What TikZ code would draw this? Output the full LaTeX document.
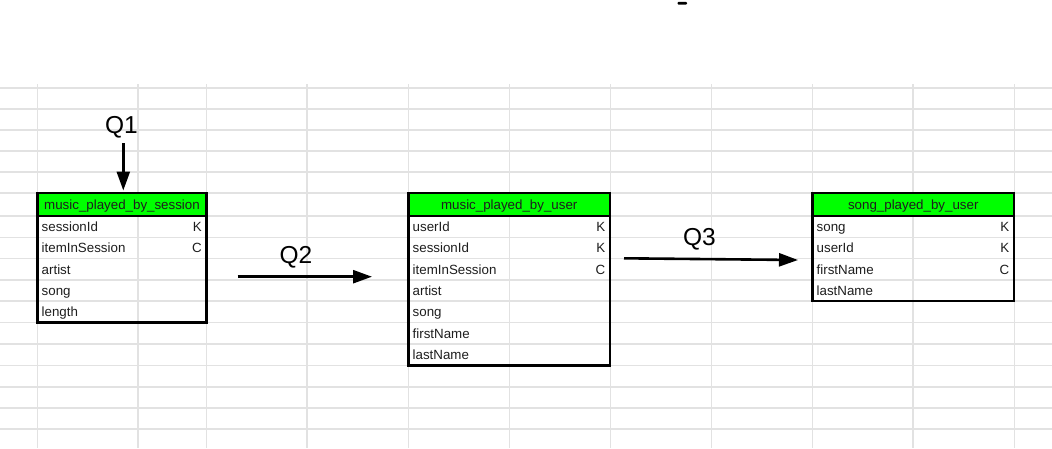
\documentclass[tikz,border=0pt]{standalone}
\usepackage{fontspec}
\setmainfont{Liberation Sans}
\usetikzlibrary{arrows.meta}
\definecolor{gridc}{RGB}{226,226,226}
\definecolor{hdrgreen}{RGB}{0,255,0}
\definecolor{txt}{RGB}{30,30,30}
\newcommand\cellfont{\fontsize{13.33}{16}\selectfont}
\newcommand\qfont{\fontsize{24.5}{28}\selectfont}
\tikzset{
  gridline/.style={draw=gridc, line width=1.1pt},
  tbl/.style={draw=black, line width=2.2pt, inner sep=0pt, outer sep=0pt, anchor=north west},
  hdr/.style={tbl, fill=hdrgreen, minimum height=23pt, font=\cellfont, text=txt,
              text height=9.6pt, text depth=0pt},
  fld/.style={anchor=base west, inner sep=0pt, font=\cellfont, text=txt},
  keyc/.style={anchor=base east, inner sep=0pt, font=\cellfont, text=txt},
  qlab/.style={anchor=base, inner sep=0pt, font=\qfont, text=black},
  arr/.style={-{Triangle[length=19pt,width=13pt]}, line width=2.6pt, draw=black},
}
\begin{document}
\begin{tikzpicture}[x=1pt,y=-1pt]
\useasboundingbox (0,0) rectangle (1052,448);
\fill[white] (0,0) rectangle (1052,448);
% spreadsheet grid
\foreach \yy in {88,109,130,151,172,193,216,237.5,258.5,280,301,322.5,344,365.5,387,408,429}
  \draw[gridline] (0,\yy) -- (1052,\yy);
\foreach \xx in {37.5,138,206.5,307,408.5,509.5,610.5,711.5,812.5,913,1014.5}
  \draw[gridline] (\xx,84) -- (\xx,448);
% small dash at top
\fill[black, rounded corners=1pt] (677.5,1.8) rectangle (687,4.6);

% ---------- table 1 ----------
\node[hdr, minimum width=169pt] (h1) at (37.5,193) {music\_played\_by\_session};
\node[tbl, minimum width=169pt, minimum height=129.5pt] (t1) at (37.5,193) {};
\node[fld]  (t1a) at (41.5,231.5) {sessionId};
\node[keyc] (t1ak) at (202,231.5) {K};
\node[fld]  (t1b) at (41.5,252.5) {itemInSession};
\node[keyc] (t1bk) at (202,252.5) {C};
\node[fld]  (t1c) at (41.5,274) {artist};
\node[fld]  (t1d) at (41.5,295) {song};
\node[fld]  (t1e) at (41.5,316.5) {length};

% ---------- table 2 ----------
\node[hdr, minimum width=201.5pt] (h2) at (408.5,193) {music\_played\_by\_user};
\node[tbl, minimum width=201.5pt, minimum height=172.5pt] (t2) at (408.5,193) {};
\node[fld]  (t2a) at (412.5,231.5) {userId};
\node[keyc] (t2ak) at (605.5,231.5) {K};
\node[fld]  (t2b) at (412.5,252.5) {sessionId};
\node[keyc] (t2bk) at (605.5,252.5) {K};
\node[fld]  (t2c) at (412.5,274) {itemInSession};
\node[keyc] (t2ck) at (605.5,274) {C};
\node[fld]  (t2d) at (412.5,295) {artist};
\node[fld]  (t2e) at (412.5,316.5) {song};
\node[fld]  (t2f) at (412.5,338) {firstName};
\node[fld]  (t2g) at (412.5,359.5) {lastName};

% ---------- table 3 ----------
\node[hdr, minimum width=201.5pt] (h3) at (812.5,193) {song\_played\_by\_user};
\node[tbl, minimum width=201.5pt, minimum height=108pt] (t3) at (812.5,193) {};
\node[fld]  (t3a) at (816.5,231.5) {song};
\node[keyc] (t3ak) at (1009.5,231.5) {K};
\node[fld]  (t3b) at (816.5,252.5) {userId};
\node[keyc] (t3bk) at (1009.5,252.5) {K};
\node[fld]  (t3c) at (816.5,274) {firstName};
\node[keyc] (t3ck) at (1009.5,274) {C};
\node[fld]  (t3d) at (816.5,295) {lastName};

% ---------- queries ----------
\node[qlab] (q1) at (121.5,133.3) {Q1};
\node[qlab] (q2) at (296,263.3) {Q2};
\node[qlab] (q3) at (699.5,245) {Q3};

\coordinate (q1s) at (123.3,143);
\coordinate (q1e) at (123.3,190.5);
\coordinate (q2s) at (237.5,276.7);
\coordinate (q2e) at (372,276.7);
\coordinate (q3s) at (624,258.3);
\coordinate (q3e) at (798,260);

\draw[arr] (q1s) -- (q1e);
\draw[arr] (q2s) -- (q2e);
\draw[arr] (q3s) -- (q3e);
\end{tikzpicture}
\end{document}
